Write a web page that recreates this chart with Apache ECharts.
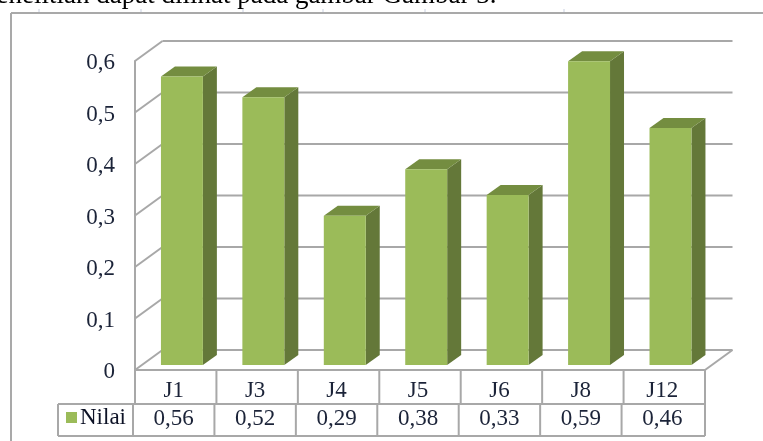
<!DOCTYPE html>
<html>
<head>
<meta charset="utf-8">
<style>html,body{margin:0;padding:0;background:#fff}#c{width:763px;height:441px}</style>
<script src="https://cdn.jsdelivr.net/npm/echarts@6/dist/echarts.min.js"></script>
</head>
<body>
<div id="c"></div>
<script>
// Nilai per jenis
const categories = ['J1', 'J3', 'J4', 'J5', 'J6', 'J8', 'J12'];
const values = [0.56, 0.52, 0.29, 0.38, 0.33, 0.59, 0.46];
const valueLabels = ['0,56', '0,52', '0,29', '0,38', '0,33', '0,59', '0,46'];
const yTicks = [0, 0.1, 0.2, 0.3, 0.4, 0.5, 0.6];
const yTickLabels = ['0', '0,1', '0,2', '0,3', '0,4', '0,5', '0,6'];
const seriesName = 'Nilai';
const bodyLine = 'penelitian dapat dilihat pada gambar Gambar 3.';
const rulerMarks = [39, 141, 243, 323, 425, 564];

const GREEN = '#9bbb59', GREEN_TOP = '#748d40', GREEN_SIDE = '#647839';
const LINE = '#a8a8a8', INK = '#1b2338';
const SERIF = '"Liberation Serif", serif';
const WALL = [27.5, -20];      // depth of the pseudo-3D box
const BAR_SHIFT = [6.2, -5];   // bars stand slightly inside the floor
const BAR_DEPTH = [14, -10];
const ROW1 = 34, ROW2 = 32;    // table row heights
const TABLE_LEFT = 58;

const chart = echarts.init(document.getElementById('c'), null, { renderer: 'canvas' });

const lineStyle = { stroke: LINE, lineWidth: 2, fill: null };
const seg = (x1, y1, x2, y2, style) => ({
  type: 'line', shape: { x1, y1, x2, y2 }, style: style || lineStyle
});

// side wall, back wall, floor edge and value label for one y tick
function renderWall(params, api) {
  const v = api.value(0);
  const left = api.coord([0, v]);
  const bandW = api.size([1, 0])[0];
  const x0 = left[0] - bandW / 2;
  const x1 = x0 + bandW * categories.length;
  const y = left[1];
  const kids = [
    seg(x0, y, x0 + WALL[0], y + WALL[1]),
    seg(x0 + WALL[0], y + WALL[1], x1 + WALL[0], y + WALL[1]),
    { type: 'text', style: { x: x0 - 20, y: y + 2, text: yTickLabels[params.dataIndex], align: 'right',
        verticalAlign: 'middle', fill: INK, font: '23px ' + SERIF } }
  ];
  if (v === 0) kids.push(seg(x1, y, x1 + WALL[0], y + WALL[1]));
  return { type: 'group', children: kids };
}

// one box: front face, top face, side face
function renderBar(params, api) {
  const top = api.coord([api.value(0), api.value(1)]);
  const base = api.coord([api.value(0), 0]);
  const bandW = api.size([1, 0])[0];
  const w = bandW * 0.515;
  const xl = top[0] - w / 2 + BAR_SHIFT[0];
  const xr = xl + w;
  const yt = top[1] + BAR_SHIFT[1];
  const yb = base[1] + BAR_SHIFT[1];
  const dx = BAR_DEPTH[0], dy = BAR_DEPTH[1];
  return {
    type: 'group',
    children: [
      { type: 'polygon', shape: { points: [[xr, yt], [xr + dx, yt + dy], [xr + dx, yb + dy], [xr, yb]] },
        style: { fill: GREEN_SIDE } },
      { type: 'polygon', shape: { points: [[xl, yt], [xl + dx, yt + dy], [xr + dx, yt + dy], [xr, yt]] },
        style: { fill: GREEN_TOP } },
      { type: 'rect', shape: { x: xl, y: yt, width: w, height: yb - yt },
        style: { fill: GREEN } }
    ]
  };
}

// data table under the axis, one column per category
function renderTable(params, api) {
  const i = api.value(0);
  const c = api.coord([i, 0]);
  const bandW = api.size([1, 0])[0];
  const xl = c[0] - bandW / 2;
  const xr = xl + bandW;
  const y0 = c[1];
  const y1 = y0 + ROW1;
  const y2 = y1 + ROW2;
  const last = i === categories.length - 1;
  const kids = [
    seg(xl, y0, xl, y1),
    seg(xl - 2, y1, xl - 2, y2),
    seg(xl - 2, y1, xr, y1),
    seg(xl - 2, y2, xr, y2),
    { type: 'text', style: { x: c[0] - 2, y: y0 + 21, text: categories[i], align: 'center',
        verticalAlign: 'middle', fill: INK, font: '23px ' + SERIF } },
    { type: 'text', style: { x: c[0] - 2, y: y1 + 15, text: valueLabels[i], align: 'center',
        verticalAlign: 'middle', fill: INK, font: '23px ' + SERIF } }
  ];
  if (last) kids.push(seg(xr, y0, xr, y2));
  if (i === 0) {
    kids.push(
      seg(TABLE_LEFT, y1, xl - 2, y1),
      seg(TABLE_LEFT, y2, xl - 2, y2),
      seg(TABLE_LEFT, y1, TABLE_LEFT, y2),
      { type: 'rect', shape: { x: TABLE_LEFT + 8, y: y1 + 8, width: 11, height: 11 }, style: { fill: GREEN } },
      { type: 'text', style: { x: TABLE_LEFT + 22, y: y1 + 14, text: seriesName, align: 'left',
          verticalAlign: 'middle', fill: '#0d1226', font: '23px ' + SERIF } }
    );
  }
  return { type: 'group', children: kids };
}

chart.setOption({
  animation: false,
  backgroundColor: '#fff',
  grid: { left: 135, right: 58, top: 61, bottom: 71 },
  xAxis: {
    type: 'category', data: categories,
    axisLine: { show: true, lineStyle: { color: LINE, width: 2 } },
    axisTick: { show: false },
    axisLabel: { show: false }
  },
  yAxis: {
    type: 'value', min: 0, max: 0.6, interval: 0.1,
    axisLine: { show: true, lineStyle: { color: LINE, width: 2 } },
    axisTick: { show: false },
    splitLine: { show: false },
    axisLabel: { show: false }
  },
  series: [
    { type: 'custom', name: 'dinding', data: yTicks.map(v => [v]), encode: { y: 0 },
      renderItem: renderWall, clip: false, z: 1, silent: true },
    { type: 'custom', name: 'tabel', data: categories.map((_, i) => [i]), encode: { x: 0 },
      renderItem: renderTable, clip: false, z: 2, silent: true },
    { type: 'custom', name: seriesName, data: categories.map((_, i) => [i, values[i]]),
      encode: { x: 0, y: 1 }, renderItem: renderBar, clip: false, z: 3 }
  ],
  graphic: [
    { type: 'text', x: -17, y: -18, style: { text: bodyLine, fill: '#000', font: '27px ' + SERIF } },
    { type: 'line', shape: { x1: 11, y1: 13, x2: 763, y2: 13 }, style: { stroke: '#a9a9a9', lineWidth: 2 } },
    { type: 'line', shape: { x1: 11, y1: 13, x2: 11, y2: 441 }, style: { stroke: '#a9a9a9', lineWidth: 2 } }
  ].concat(rulerMarks.map(x => ({
    type: 'line', shape: { x1: x, y1: 9, x2: x, y2: 12 }, style: { stroke: '#c8cfe0', lineWidth: 1 }
  })))
});
</script>
</body>
</html>
